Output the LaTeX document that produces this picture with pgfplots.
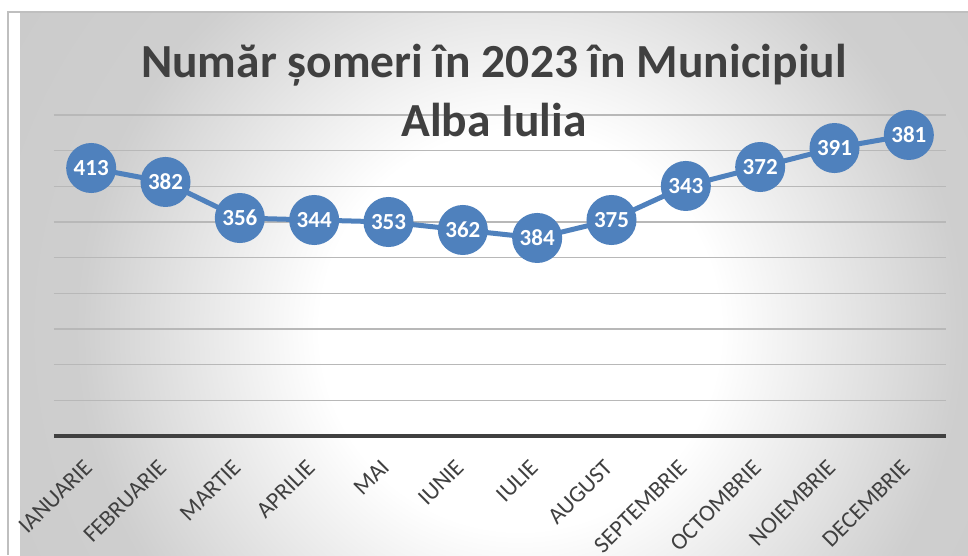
\documentclass[border=0pt]{standalone}
\usepackage{pgfplots}
\pgfplotsset{compat=1.18}
\usepackage{fontspec}
\setmainfont{Carlito}
\definecolor{serblue}{HTML}{4F81BD}
\definecolor{txtgray}{HTML}{404040}
\definecolor{gridgray}{HTML}{B8B8B8}
\pgfdeclareradialshading{bgshade}{\pgfpoint{0bp}{0bp}}{color(0bp)=(white); color(10bp)=(white); color(22bp)=(black!19); color(50bp)=(black!24)}
\begin{document}
\begin{tikzpicture}[x=1pt,y=1pt]
\useasboundingbox (0,0) rectangle (968,555);
\fill[white] (0,0) rectangle (968,555);
\begin{scope}
\clip (8,0) rectangle (968,543);
\shade[shading=bgshade] (20,-275) rectangle (1020,725);
\end{scope}
\draw[black!25, line width=1.2pt] (8,0) -- (8,543) -- (968,543);
\begin{axis}[
  at={(54pt,119pt)}, anchor=south west, scale only axis,
  width=892pt, height=321pt,
  xmin=-0.5, xmax=11.5, ymin=0, ymax=450,
  axis x line*=bottom, axis y line*=left,
  x axis line style={line width=4pt, txtgray},
  y axis line style={draw=none},
  ytick={50,100,...,450}, yticklabels={},
  ymajorgrids, major grid style={gridgray, line width=1.3pt},
  ytick style={draw=none}, xtick style={draw=none},
  xtick={0,...,11},
  xticklabels={IANUARIE,FEBRUARIE,MARTIE,APRILIE,MAI,IUNIE,IULIE,AUGUST,SEPTEMBRIE,OCTOMBRIE,NOIEMBRIE,DECEMBRIE},
  xticklabel style={xshift=-8.5pt, yshift=-22pt, rotate=45, anchor=north east, font=\fontsize{23.5}{23.5}\selectfont, text=txtgray, inner sep=0pt},
  clip=false,
]
\addplot[serblue, line width=5pt, mark=*, mark size=22.5pt,
  mark options={fill=serblue, draw=none},
  nodes near coords, point meta=explicit symbolic,
  nodes near coords align=center,
  every node near coord/.append style={font=\fontsize{23}{23}\selectfont\bfseries, text=white}]
table[meta=lab] {
x y lab
0 375.7 413
1 356.1 382
2 305.6 356
3 302.8 344
4 300.0 353
5 288.8 362
6 277.6 384
7 302.8 375
8 350.5 343
9 377.1 372
10 403.7 391
11 422.0 381
};
\end{axis}
\node[anchor=base, font=\fontsize{47.5}{47.5}\selectfont\bfseries, text=txtgray] at (494,477) {Număr șomeri în 2023 în Municipiul};
\node[anchor=base, font=\fontsize{47.5}{47.5}\selectfont\bfseries, text=txtgray] at (494,418) {Alba Iulia};
\end{tikzpicture}
\end{document}
